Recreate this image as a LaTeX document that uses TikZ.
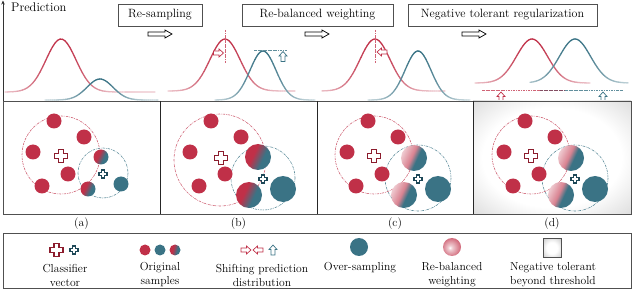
\documentclass[tikz,border=0pt]{standalone}
\usepackage{tikz}
\usetikzlibrary{arrows.meta}
\definecolor{cred}{RGB}{192,48,72}
\definecolor{cteal}{RGB}{58,115,133}
\definecolor{dred}{RGB}{140,28,45}
\definecolor{dteal}{RGB}{30,72,88}
\definecolor{framec}{RGB}{80,80,80}
\pgfdeclarehorizontalshading{mixA}{100bp}{color(0bp)=(cred); color(40bp)=(cred); color(60bp)=(cteal); color(100bp)=(cteal)}
\pgfdeclarehorizontalshading{mixB}{100bp}{color(0bp)=(cred!8!white); color(25bp)=(cred!25!white); color(45bp)=(cred!60!white); color(56bp)=(cteal); color(100bp)=(cteal)}
\pgfdeclareradialshading{vig}{\pgfpoint{0bp}{0bp}}{color(0bp)=(white); color(22bp)=(white); color(50bp)=(black!27); color(70bp)=(black!35)}
\pgfdeclareradialshading{rwball}{\pgfpoint{-6bp}{-2bp}}{color(0bp)=(white); color(6bp)=(cred!25!white); color(30bp)=(cred!80!white); color(50bp)=(cred)}
\pgfdeclareradialshading{sqvig}{\pgfpoint{0bp}{0bp}}{color(0bp)=(white); color(15bp)=(white); color(50bp)=(black!35); color(70bp)=(black!40)}
\newcommand\bellcurve[7]{% mu, sigma, height, base, xa, xb, color
  \foreach \k in {1,...,60}{%
    \pgfmathsetmacro\xa{#5+(\k-1)*(#6-#5)/60}%
    \pgfmathsetmacro\xb{#5+\k*(#6-#5)/60}%
    \pgfmathsetmacro\ya{#4-#3*exp(-(\xa-#1)*(\xa-#1)/(2*#2*#2))}%
    \pgfmathsetmacro\yb{#4-#3*exp(-(\xb-#1)*(\xb-#1)/(2*#2*#2))}%
    \pgfmathsetmacro\pp{18+82*exp(-(0.5*\xa+0.5*\xb-#1)*(0.5*\xa+0.5*\xb-#1)/(2*3.4*#2*#2))}%
    \draw[draw=#7!\pp!white, line width=1.3pt, line cap=round] (\xa,\ya) -- (\xb,\yb);
  }}
\newcommand\crossmark[5]{% x, y, halflen, halfwidth, color
  \begin{scope}[shift={(#1,#2)}]
  \draw[draw=#5, fill=white, line width=1.5pt, line join=miter]
   (-#3,-#4) -- (-#4,-#4) -- (-#4,-#3) -- (#4,-#3) -- (#4,-#4) -- (#3,-#4) --
   (#3,#4) -- (#4,#4) -- (#4,#3) -- (-#4,#3) -- (-#4,#4) -- (-#3,#4) -- cycle;
  \end{scope}}
\newcommand\blockarrow[8]{% x, y, rot, len, headlen, headhalf, shafthalf, color
  \begin{scope}[shift={(#1,#2)}, rotate=#3]
  \draw[draw=#8, fill=white, line width=0.7pt, line join=miter]
   (-#4/2,-#7) -- (#4/2-#5,-#7) -- (#4/2-#5,-#6) -- (#4/2,0) -- (#4/2-#5,#6) -- (#4/2-#5,#7) -- (-#4/2,#7) -- cycle;
  \end{scope}}
\begin{document}
\begin{tikzpicture}[x=1pt, y=-1pt,
  titlebox/.style={draw=framec, line width=0.8pt, inner sep=0pt, font=\fontsize{12}{13}\selectfont},
  legtext/.style={align=center, font=\fontsize{11.6}{14}\selectfont, inner sep=0pt},
  redc/.style={draw=cred!75!white, line width=0.6pt, dash pattern=on 2.5pt off 1pt on 0.6pt off 1pt},
  tealc/.style={draw=cteal!80!white, line width=0.6pt, dash pattern=on 2.5pt off 1pt on 0.6pt off 1pt},
  framel/.style={draw=framec, line width=0.9pt}]
\useasboundingbox (0,0) rectangle (640,291);
% axis
\draw[black!80, line width=0.7pt, -{Stealth[length=4pt,width=3.5pt]}] (3,101) -- (3,0.5);
\node[anchor=west, inner sep=0pt, font=\fontsize{12.5}{13}\selectfont] (ylab) at (11,7.5) {Prediction};
% method boxes
\node[titlebox, minimum width=84, minimum height=22] (t1) at (160,15) {Re-sampling};
\node[titlebox, minimum width=151, minimum height=22] (t2) at (317.5,15) {Re-balanced weighting};
\node[titlebox, minimum width=189, minimum height=22] (t3) at (502.5,15) {Negative tolerant regularization};
\blockarrow{160}{34}{0}{24}{7}{4}{2}{black}
\blockarrow{317}{34}{0}{24}{7}{4}{2}{black}
\blockarrow{474}{34}{0}{24}{7}{4}{2}{black}
% curves
\bellcurve{61}{15}{53}{92}{5}{155}{cred}
\bellcurve{100}{13}{21}{100}{45}{158}{cteal}
\bellcurve{225}{15}{52}{91}{168}{295}{cred}
\bellcurve{263}{13}{49}{100}{215}{315}{cteal}
\bellcurve{375}{15}{52}{91}{322}{445}{cred}
\bellcurve{418}{13}{49}{100}{368}{470}{cteal}
\bellcurve{532}{15.5}{44}{83}{475}{590}{cred}
\bellcurve{575}{15.5}{44}{83}{530}{628}{cteal}
% shift marks
\draw[redc] (225,30) -- (225,63);
\blockarrow{218.5}{53}{0}{10}{4.5}{4}{2}{cred}
\draw[tealc] (254,50) -- (288,50);
\blockarrow{283}{56.5}{90}{10}{4.5}{4}{2}{cteal}
\draw[redc] (375,30) -- (375,63);
\blockarrow{382}{52}{180}{10}{4.5}{4}{2}{cred}
\draw[redc] (482,90) -- (540,90);
\draw[draw=cred!55!cteal, line width=0.6pt, dash pattern=on 2.5pt off 1pt on 0.6pt off 1pt] (540,90) -- (565,90);
\draw[tealc] (565,90) -- (623,90);
\blockarrow{501}{97}{90}{10}{4.5}{4}{2}{cred}
\blockarrow{603}{97}{90}{10}{4.5}{4}{2}{cteal}
% panels
\shade[shading=vig] (473,101) rectangle (631,214);
\draw[framel] (3,101) rectangle (631,214);
\draw[framel, draw=black!85] (160,101) -- (160,214);
\draw[framel, draw=black!85] (317,101) -- (317,214);
\draw[framel, draw=black!85] (473,101) -- (473,214);
% panel a
\draw[redc] (61,155) circle[radius=39];
\draw[tealc] (103,173) circle[radius=25];
% panel b
\draw[redc] (220,160) circle[radius=46];
\draw[tealc] (263,178) circle[radius=32];
% panel c, d
\draw[redc] (374,155) circle[radius=39];
\draw[tealc] (418,178) circle[radius=33];
\draw[redc] (531,155) circle[radius=39];
\draw[tealc] (575,178) circle[radius=33];
\foreach \dx in {0,157,314,471}{
  \fill[cred] (54+\dx,121) circle[radius=7.5];
  \fill[cred] (84+\dx,137) circle[radius=7.5];
  \fill[cred] (33+\dx,152) circle[radius=7.5];
  \fill[cred] (68+\dx,174) circle[radius=7.5];
  \fill[cred] (42+\dx,186) circle[radius=7.5];
}
% a
\shade[shading=mixA, shading angle=-25] (101,157) circle[radius=7.5];
\shade[shading=mixA, shading angle=-25] (88,189) circle[radius=7.5];
\fill[cteal] (121,184) circle[radius=7.5];
% b
\shade[shading=mixA, shading angle=-25] (258,157) circle[radius=13];
\shade[shading=mixA, shading angle=-25] (249,195) circle[radius=13];
\fill[cteal] (283,189) circle[radius=13];
% c
\shade[shading=mixB, shading angle=-25] (414,158) circle[radius=13];
\shade[shading=mixB, shading angle=-25] (404,195) circle[radius=13];
\fill[cteal] (438,189) circle[radius=13];
% d
\shade[shading=mixB, shading angle=-25] (571,158) circle[radius=13];
\shade[shading=mixB, shading angle=-25] (561,195) circle[radius=13];
\fill[cteal] (595,189) circle[radius=13];
% classifier marks
\crossmark{61}{156}{6.5}{2.4}{dred}
\crossmark{103}{174}{3.8}{1.5}{dteal}
\crossmark{221}{158}{6.5}{2.4}{dred}
\crossmark{263}{179}{3.8}{1.5}{dteal}
\crossmark{374}{156}{6.5}{2.4}{dred}
\crossmark{418}{179}{3.8}{1.5}{dteal}
\crossmark{531}{156}{6.5}{2.4}{dred}
\crossmark{575}{179}{3.8}{1.5}{dteal}
% panel labels
\node[legtext] (la) at (81.5,224) {(a)};
\node[legtext] (lb) at (238.5,224) {(b)};
\node[legtext] (lc) at (395,224) {(c)};
\node[legtext] (ld) at (552,224) {(d)};
% legend
\draw[framel] (3,233) rectangle (631,288);
\crossmark{56.5}{250}{6.5}{2.4}{dred}
\crossmark{74}{250}{4.2}{1.6}{dteal}
\node[legtext] (g1) at (65,275) {Classifier\\vector};
\fill[cred] (145,250) circle[radius=5.5];
\fill[cteal] (160,250) circle[radius=5.5];
\shade[shading=mixA, shading angle=-15] (175,250) circle[radius=5.5];
\node[legtext] (g2) at (160,275) {Original\\samples};
\blockarrow{246}{250}{0}{10}{4.5}{4}{2}{cred}
\blockarrow{258}{250}{180}{10}{4.5}{4}{2}{cred}
\blockarrow{273}{250}{90}{10}{4.5}{4}{2}{cteal}
\node[legtext] (g3) at (262,275) {Shifting prediction\\distribution};
\fill[cteal] (359,247) circle[radius=9];
\node[legtext] (g4) at (360,268) {Over-sampling};
\shade[shading=rwball] (452,247) circle[radius=9];
\node[legtext] (g5) at (452,275) {Re-balanced\\weighting};
\shade[shading=sqvig] (543,238.5) rectangle (561,257.5);
\draw[draw=framec, line width=0.8pt] (543,238.5) rectangle (561,257.5);
\node[legtext] (g6) at (553,275) {Negative tolerant\\beyond threshold};
\end{tikzpicture}
\end{document}
